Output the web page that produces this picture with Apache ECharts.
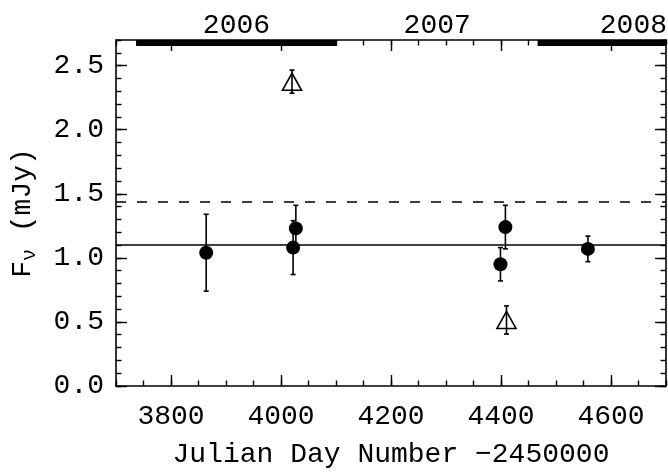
<!DOCTYPE html>
<html><head><meta charset="utf-8">
<script src="https://cdn.jsdelivr.net/npm/echarts@6/dist/echarts.min.js"></script>
<style>html,body{margin:0;padding:0;background:#fff}#c{width:668px;height:472px}</style>
</head><body><div id="c"></div>
<script>
// ---- data ----
const xTickValues = [3800, 4000, 4200, 4400, 4600];
const yTickValues = [0.0, 0.5, 1.0, 1.5, 2.0, 2.5];
const circleJD   = [3864, 4022, 4027, 4399, 4408, 4558];
const circleFlux = [1.04, 1.08, 1.23, 0.95, 1.24, 1.07];
const circleErr  = [0.30, 0.21, 0.18, 0.13, 0.17, 0.10];
const triangleJD   = [4020, 4410];
const triangleFlux = [2.375, 0.515];
const triangleErr  = [0.09, 0.11];
const meanFlux = 1.10;
const upperFlux = 1.44;
const yearLabels  = ['2006', '2007', '2008'];
const yearStartJD = [3736.5, 4101.5, 4466.5];
const yearEndJD   = [4101.5, 4466.5, 4831.5];
const yearMarked  = [1, 0, 1];

// ---- chart ----
const FONT = 'Liberation Mono';
const FS = 28;
const XMIN = 3700, XMAX = 4700, YMIN = 0, YMAX = 2.7;
const axisCol = '#000';

function majorX(pos, labels, extra) {
  return Object.assign({
    type: 'value', position: pos, min: XMIN, max: XMAX,
    axisLine: { show: true, onZero: false, lineStyle: { color: axisCol, width: 1.6 } },
    axisTick: { show: true, inside: true, length: 11, customValues: xTickValues, lineStyle: { color: axisCol, width: 1.4 } },
    axisLabel: { show: labels, customValues: xTickValues, fontFamily: FONT, fontSize: FS, color: '#000', margin: 17,
      formatter: v => String(Math.round(v)) },
    splitLine: { show: false }
  }, extra || {});
}
function minorX(pos) {
  return {
    type: 'value', position: pos, min: XMIN, max: XMAX, interval: 50,
    axisLine: { show: false, onZero: false },
    axisTick: { show: true, inside: true, length: 5.5, lineStyle: { color: axisCol, width: 1.4 } },
    axisLabel: { show: false }, splitLine: { show: false }
  };
}
function majorY(pos, labels, extra) {
  return Object.assign({
    type: 'value', position: pos, min: YMIN, max: YMAX, interval: 0.5,
    axisLine: { show: true, onZero: false, lineStyle: { color: axisCol, width: 1.6 } },
    axisTick: { show: true, inside: true, length: 11, customValues: yTickValues, lineStyle: { color: axisCol, width: 1.4 } },
    axisLabel: { show: labels, customValues: yTickValues, fontFamily: FONT, fontSize: FS, color: '#000', margin: 12,
      formatter: v => Number(v).toFixed(1) },
    splitLine: { show: false }
  }, extra || {});
}
function minorY(pos) {
  return {
    type: 'value', position: pos, min: YMIN, max: YMAX, interval: 0.1,
    axisLine: { show: false, onZero: false },
    axisTick: { show: true, inside: true, length: 5.5, lineStyle: { color: axisCol, width: 1.4 } },
    axisLabel: { show: false }, splitLine: { show: false }
  };
}

function renderErr(params, api) {
  const x = api.value(0), y = api.value(1), e = api.value(2);
  const t = api.coord([x, y + e]), b = api.coord([x, y - e]);
  const c = 2.5;
  const st = { stroke: '#000', lineWidth: 1.6, fill: null };
  return { type: 'group', children: [
    { type: 'line', shape: { x1: t[0], y1: t[1], x2: b[0], y2: b[1] }, style: st },
    { type: 'line', shape: { x1: t[0] - c, y1: t[1], x2: t[0] + c, y2: t[1] }, style: st },
    { type: 'line', shape: { x1: b[0] - c, y1: b[1], x2: b[0] + c, y2: b[1] }, style: st }
  ]};
}

function renderYear(params, api) {
  const cs = params.coordSys;
  const s = api.value(0), e = api.value(1), marked = api.value(2), idx = api.value(3);
  const x0 = api.coord([s, YMAX])[0], x1 = api.coord([e, YMAX])[0];
  const left = cs.x, right = cs.x + cs.width;
  const cx0 = Math.max(left, x0), cx1 = Math.min(right, x1);
  const children = [];
  if (marked) {
    children.push({ type: 'rect', shape: { x: cx0, y: cs.y, width: cx1 - cx0, height: 6 }, style: { fill: '#000' } });
  }
  let mid = (x0 + x1) / 2, align = 'center';
  if (mid + 34 > right + 1) { mid = right + 1; align = 'right'; }
  children.push({ type: 'text', x: mid, y: cs.y - 14,
    style: { text: yearLabels[idx], fontFamily: FONT, fontSize: FS, fill: '#000', align: align, verticalAlign: 'middle' } });
  return { type: 'group', children };
}

const option = {
  animation: false,
  backgroundColor: '#fff',
  grid: { left: 116, right: 2, top: 40, bottom: 86, containLabel: false, outerBoundsMode: 'none' },
  xAxis: [
    majorX('bottom', true, { name: 'Julian Day Number \u22122450000', nameLocation: 'middle', nameGap: 55,
      nameTextStyle: { fontFamily: FONT, fontSize: FS, color: '#000' } }),
    minorX('bottom'),
    majorX('top', false),
    minorX('top')
  ],
  yAxis: [
    majorY('left', true, { name: '{a|F}{b|\u03bd}{a| (mJy)}', nameLocation: 'middle', nameGap: 76,
      nameTextStyle: { rich: {
        a: { fontFamily: FONT, fontSize: FS, color: '#000', lineHeight: 34 },
        b: { fontFamily: FONT, fontSize: 20, color: '#000', lineHeight: 20, verticalAlign: 'bottom' }
      } } }),
    minorY('left'),
    majorY('right', false),
    minorY('right')
  ],
  series: [
    { type: 'custom', name: 'years', xAxisIndex: 0, yAxisIndex: 0, clip: false, silent: true,
      renderItem: renderYear,
      data: yearLabels.map((y, i) => [yearStartJD[i], yearEndJD[i], yearMarked[i], i]), z: 1 },
    { type: 'scatter', name: 'lines', xAxisIndex: 0, yAxisIndex: 0, data: [], silent: true,
      markLine: { silent: true, symbol: 'none', label: { show: false }, animation: false,
        data: [
          { yAxis: meanFlux, lineStyle: { color: '#000', width: 1.6, type: 'solid' } },
          { yAxis: upperFlux, lineStyle: { color: '#000', width: 1.6, type: [10, 11] } }
        ] } },
    { type: 'custom', name: 'errC', xAxisIndex: 0, yAxisIndex: 0, renderItem: renderErr,
      data: circleJD.map((x, i) => [x, circleFlux[i], circleErr[i]]), z: 3 },
    { type: 'custom', name: 'errT', xAxisIndex: 0, yAxisIndex: 0, renderItem: renderErr,
      data: triangleJD.map((x, i) => [x, triangleFlux[i], triangleErr[i]]), z: 3 },
    { type: 'scatter', name: 'circles', xAxisIndex: 0, yAxisIndex: 0, symbol: 'circle', symbolSize: 14,
      itemStyle: { color: '#000', opacity: 1 },
      data: circleJD.map((x, i) => [x, circleFlux[i]]), z: 4 },
    { type: 'scatter', name: 'triangles', xAxisIndex: 0, yAxisIndex: 0, symbol: 'triangle', symbolSize: [19, 17],
      itemStyle: { color: 'rgba(0,0,0,0)', borderColor: '#000', borderWidth: 1.6, opacity: 1 },
      data: triangleJD.map((x, i) => [x, triangleFlux[i]]), z: 4 }
  ]
};
const chart = echarts.init(document.getElementById('c'), null, { renderer: 'canvas' });
chart.setOption(option);
</script>
</body></html>
